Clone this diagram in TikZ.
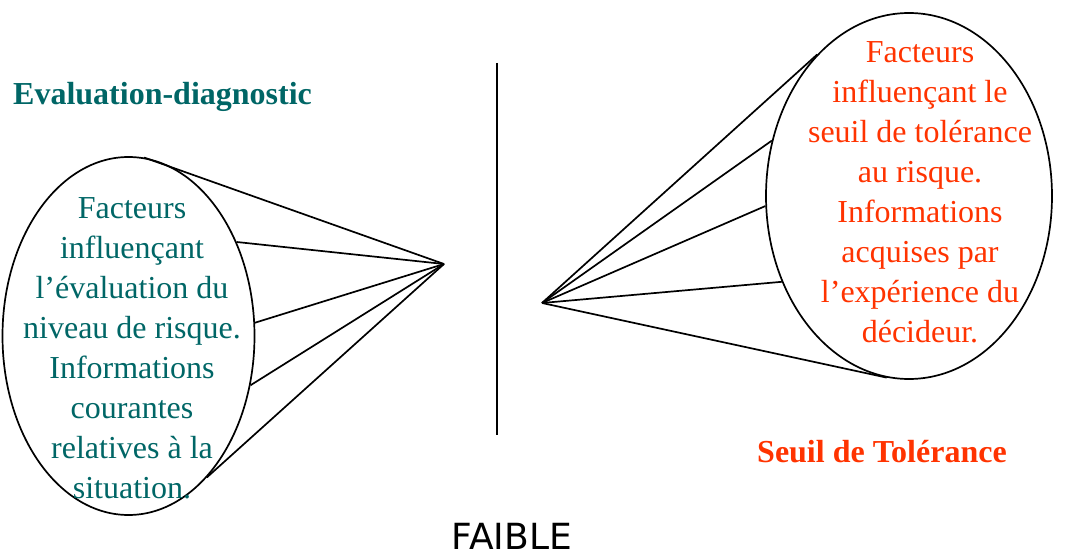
\documentclass[tikz,border=0pt]{standalone}
\usepackage{fontspec}
\setmainfont{Liberation Serif}
\newfontfamily\faiblefont{DejaVu Sans}
\usetikzlibrary{shapes.geometric}
\definecolor{tealtxt}{RGB}{0,102,102}
\definecolor{redtxt}{RGB}{255,51,0}
\begin{document}
\begin{tikzpicture}[x=1pt,y=-1pt,
  bubble/.style={draw=black, ellipse, line width=1.7pt, inner sep=0pt},
  ray/.style={draw=black, line width=1.7pt},
  bodytext/.style={align=center, font=\fontsize{32}{40}\selectfont, inner sep=0pt},
  headtext/.style={font=\fontsize{32}{38}\selectfont\bfseries, inner sep=0pt}]
\useasboundingbox (0,0) rectangle (1066,556);
% left ellipse
\node[bubble, minimum width=252pt, minimum height=358pt] (L) at (128.5,336) {};
\node[bodytext, text=tealtxt] (Ltxt) at (132,348) {Facteurs\\influençant\\l’évaluation du\\niveau de risque.\\Informations\\courantes\\relatives à la\\situation.};
% right ellipse
\node[bubble, minimum width=286pt, minimum height=366pt] (R) at (909,196) {};
\node[bodytext, text=redtxt] (Rtxt) at (920,192) {Facteurs\\influençant le\\seuil de tolérance\\au risque.\\Informations\\acquises par\\l’expérience du\\décideur.};
% apexes
\coordinate (A) at (444,264);
\coordinate (B) at (542,303);
% rays
\draw[ray] (A) -- (L.85);
\draw[ray] (A) -- (L.41.6);
\draw[ray] (A) -- (L.6);
\draw[ray] (A) -- (L.-22.3);
\draw[ray] (A) -- (L.-61.7);
\draw[ray] (B) -- (R.123.5);
\draw[ray] (B) -- (R.158.5);
\draw[ray] (B) -- (R.184);
\draw[ray] (B) -- (R.214.2);
\draw[ray] (B) -- (R.263.6);
% divider
\coordinate (Vt) at (497,63);
\coordinate (Vb) at (497,435);
\draw[ray] (Vt) -- (Vb);
% headings
\node[headtext, text=tealtxt, anchor=west] (Lhead) at (13,97) {Evaluation-diagnostic};
\node[headtext, text=redtxt, anchor=west] (Rhead) at (757,452) {Seuil de Tolérance};
\node[inner sep=0pt, font=\faiblefont\fontsize{36}{40}\selectfont] (faible) at (512,536) {FAIBLE};
\end{tikzpicture}
\end{document}
